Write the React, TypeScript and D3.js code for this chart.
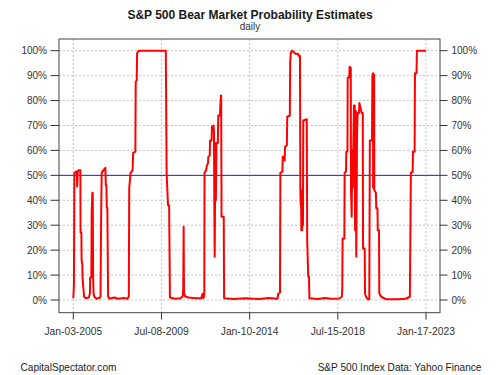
import React from "react";
import * as d3 from "d3";

const dates: string[] = [
  "2005-01-03","2005-01-15","2005-01-23","2005-02-17","2005-03-10","2005-03-17","2005-03-28","2005-04-08",
  "2005-05-15","2005-05-19","2005-06-03","2005-06-07","2005-06-21","2005-06-25","2005-07-09","2005-07-24",
  "2005-08-26","2005-10-19","2005-11-10","2005-11-14","2005-12-06","2005-12-13","2005-12-24","2006-01-01",
  "2006-01-08","2006-01-15","2006-01-30","2006-03-14","2006-05-19","2006-05-26","2006-06-06","2006-06-17",
  "2006-07-16","2006-08-25","2006-09-02","2006-09-13","2006-09-20","2006-10-01","2006-10-15","2006-11-06",
  "2007-02-06","2007-04-20","2007-08-08","2007-10-12","2007-11-06","2007-11-14","2007-12-09","2008-01-15",
  "2008-01-26","2008-03-07","2008-03-14","2008-04-01","2008-04-09","2008-05-08","2009-09-27","2009-10-12",
  "2009-11-07","2009-11-28","2009-12-13","2010-03-15","2010-07-02","2010-08-08","2010-08-19","2010-08-26",
  "2010-09-02","2010-09-20","2010-11-24","2011-04-20","2011-07-20","2011-08-15","2011-08-29","2011-09-16",
  "2011-09-20","2011-10-19","2011-10-30","2011-11-24","2011-12-01","2011-12-27","2012-01-01","2012-01-30",
  "2012-02-07","2012-03-07","2012-03-14","2012-03-21","2012-03-28","2012-04-01","2012-04-08","2012-04-19",
  "2012-04-30","2012-05-26","2012-06-02","2012-07-05","2012-07-12","2012-07-23","2012-07-27","2012-08-03",
  "2012-09-13","2012-09-20","2013-03-15","2013-10-19","2014-07-02","2015-01-01","2015-06-14","2015-06-28",
  "2015-07-31","2015-08-07","2015-09-13","2015-09-20","2015-10-19","2015-10-26","2015-11-03","2015-12-06",
  "2015-12-13","2016-01-30","2016-02-06","2016-02-17","2016-03-07","2016-04-13","2016-05-08","2016-07-02",
  "2016-07-09","2016-08-07","2016-08-14","2016-08-21","2016-08-25","2016-09-02","2016-09-09","2016-09-16",
  "2016-09-23","2016-10-02","2016-10-08","2016-12-12","2016-12-20","2017-01-08","2017-01-22","2017-01-30",
  "2017-07-02","2017-11-24","2018-03-15","2018-08-08","2018-09-27","2018-10-06","2018-10-12","2018-11-14",
  "2018-11-19","2018-12-15","2018-12-20","2019-01-11","2019-01-15","2019-02-13","2019-02-21","2019-03-14",
  "2019-03-18","2019-03-31","2019-04-11","2019-04-20","2019-05-12","2019-05-27","2019-06-02","2019-06-14",
  "2019-06-25","2019-07-08","2019-07-20","2019-08-15","2019-08-21","2019-09-13","2019-10-04","2019-10-24",
  "2019-10-29","2019-11-29","2019-12-05","2019-12-25","2020-01-23","2020-02-23","2020-03-04","2020-04-13",
  "2020-04-20","2020-05-01","2020-05-05","2020-05-12","2020-05-23","2020-05-26","2020-06-25","2020-07-02",
  "2020-07-24","2020-07-30","2020-08-22","2020-08-28","2020-10-01","2021-01-01","2021-08-08","2022-01-01",
  "2022-03-22","2022-04-09","2022-05-12","2022-05-19","2022-06-18","2022-06-25","2022-07-24","2022-07-31",
  "2023-01-17",
];

const probs: number[] = [
  0.7, 6, 50.8, 51.5, 51.5, 45.5, 51.5, 52,
  52, 27, 27, 16, 14, 9, 5, 1.3,
  0.7, 1, 2.5, 9, 9, 35, 43, 43,
  10, 3, 1.3, 0.5, 1, 1.5, 31, 51,
  52, 53, 46, 46, 37, 37, 1.5, 0.5,
  1, 0.5, 0.8, 0.5, 1.5, 45, 51, 52,
  59, 59.5, 87.6, 88, 99, 100, 100, 51,
  38, 38, 1, 0.5, 0.7, 1.5, 4.7, 29.4,
  3, 1.5, 1, 0.7, 0.7, 2.5, 0.7, 2,
  51, 52, 53.5, 55, 57.5, 58, 64, 64,
  69.5, 70, 68, 40, 17.4, 30, 63, 40,
  63, 63, 74, 74, 78, 82, 82, 33.4,
  33.4, 0.7, 0.4, 0.7, 0.4, 0.8, 0.5, 2.5,
  3, 51, 51.5, 57.5, 57.5, 56, 61.5, 62,
  73.5, 74, 95, 99, 100, 99.5, 98.8, 98.8,
  98, 98, 44, 38, 44, 28, 42, 28,
  44, 30, 72, 72.5, 24, 9.4, 9.4, 0.7,
  0.4, 0.8, 0.5, 0.6, 1.3, 4, 24.7, 24.7,
  51, 51.5, 59.5, 59.5, 89, 89.5, 93.6, 93,
  44, 33.4, 60, 45, 78, 78, 28, 76,
  17.4, 65, 75, 75, 79, 77, 75, 75,
  20.7, 20.7, 2.5, 1.3, 0.3, 0.3, 64, 64,
  89.6, 91, 45, 90.5, 90.5, 44, 43, 36.8,
  36.8, 28, 28, 2.7, 1.3, 0.3, 0.3, 0.5,
  1.3, 51, 51.5, 59.5, 59.5, 91, 91, 100,
  100,
];

const xTickDates: string[] = ["2005-01-03", "2009-07-08", "2014-01-10", "2018-07-15", "2023-01-17"];
const xTickLabels: string[] = ["Jan-03-2005", "Jul-08-2009", "Jan-10-2014", "Jul-15-2018", "Jan-17-2023"];
const yTicks: number[] = [0, 10, 20, 30, 40, 50, 60, 70, 80, 90, 100];
const threshold = 50;

const title = "S&P 500 Bear Market Probability Estimates";
const subtitle = "daily";
const footLeft = "CapitalSpectator.com";
const footRight = "S&P 500 Index Data: Yahoo Finance";

export default function App() {
  const W = 500, H = 375;
  const box = { left: 59, right: 440, top: 39, bottom: 312.7 };
  const parse = d3.timeParse("%Y-%m-%d");
  const x = d3.scaleTime()
    .domain([parse("2005-01-03")!, parse("2023-01-17")!])
    .range([73.3, 426]);
  const y = d3.scaleLinear().domain([0, 100]).range([300, 50.7]);
  const data = dates.map((d, i) => ({ t: parse(d)!, v: probs[i] }));
  const line = d3.line<{ t: Date; v: number }>().x(d => x(d.t)).y(d => y(d.v));
  const font = "'Liberation Sans', Arial, sans-serif";
  const grid = "#c4c4c4";

  return (
    <svg width={W} height={H} style={{ position: "absolute", left: 0, top: 0, background: "#fff" }} fontFamily={font}>
      <rect x={0} y={0} width={W} height={H} fill="#fff" />
      <text x={250} y={18.5} textAnchor="middle" fontWeight="bold" fontSize={12} fill="#1a1a1a">{title}</text>
      <text x={250} y={30} textAnchor="middle" fontSize={10} fill="#333">{subtitle}</text>
      {yTicks.map(v => (
        <line key={"gy" + v} x1={box.left} x2={box.right} y1={y(v)} y2={y(v)} stroke={grid} strokeWidth={1} strokeDasharray="2,2" />
      ))}
      {xTickDates.map(d => (
        <line key={"gx" + d} x1={x(parse(d)!)} x2={x(parse(d)!)} y1={box.top} y2={box.bottom} stroke={grid} strokeWidth={1} strokeDasharray="2,2" />
      ))}
      <line x1={box.left} x2={box.right} y1={y(threshold)} y2={y(threshold)} stroke="#1f1fd6" strokeWidth={1} />
      <path d={line(data) || ""} fill="none" stroke="#ff0000" strokeWidth={2} strokeLinejoin="round" />
      <rect x={box.left} y={box.top} width={box.right - box.left} height={box.bottom - box.top} fill="none" stroke="#444" strokeWidth={1} />
      {yTicks.map(v => (
        <g key={"ty" + v}>
          <line x1={50.5} x2={box.left} y1={y(v)} y2={y(v)} stroke="#333" />
          <line x1={box.right} x2={447.5} y1={y(v)} y2={y(v)} stroke="#333" />
          <text x={47} y={y(v)} dy="0.35em" textAnchor="end" fontSize={10} fill="#333">{v + "%"}</text>
          <text x={451.5} y={y(v)} dy="0.35em" textAnchor="start" fontSize={10} fill="#333">{v + "%"}</text>
        </g>
      ))}
      {xTickDates.map((d, i) => (
        <g key={"tx" + d}>
          <line x1={x(parse(d)!)} x2={x(parse(d)!)} y1={box.bottom} y2={319.5} stroke="#333" />
          <text x={x(parse(d)!)} y={335} textAnchor="middle" fontSize={10.3} fill="#333">{xTickLabels[i]}</text>
        </g>
      ))}
      <text x={20.5} y={370.5} fontSize={10.1} fill="#222">{footLeft}</text>
      <text x={481.5} y={370.5} textAnchor="end" fontSize={10.1} fill="#222">{footRight}</text>
    </svg>
  );
}
